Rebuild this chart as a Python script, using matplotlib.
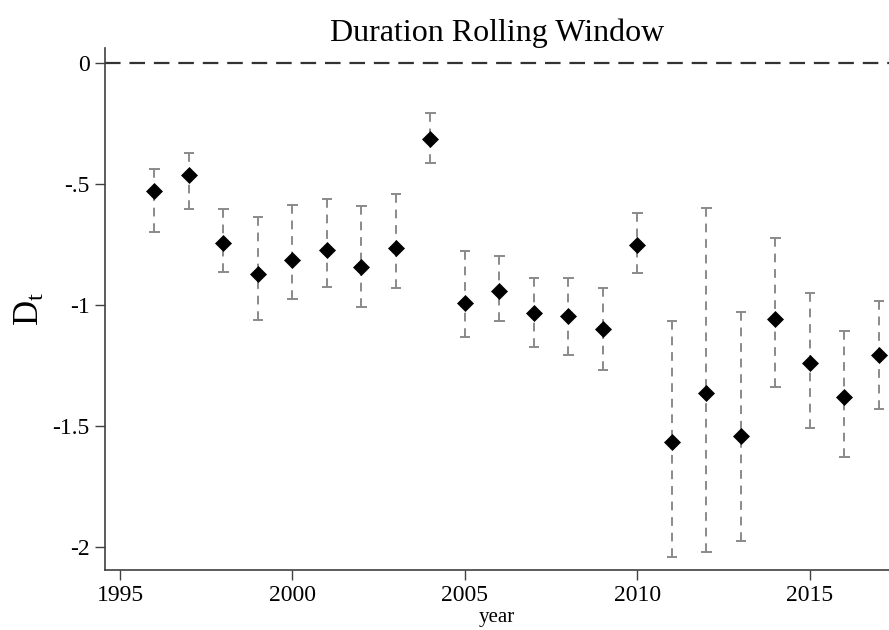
import matplotlib
matplotlib.use("Agg")
import matplotlib.pyplot as plt
import numpy as np

plt.rcParams['font.family'] = ['Liberation Serif', 'DejaVu Serif']
plt.rcParams['mathtext.fontset'] = 'custom'
plt.rcParams['mathtext.rm'] = 'Liberation Serif'
plt.rcParams['mathtext.it'] = 'Liberation Serif:italic'

years = [1996, 1997, 1998, 1999, 2000, 2001, 2002, 2003, 2004, 2005, 2006,
         2007, 2008, 2009, 2010, 2011, 2012, 2013, 2014, 2015, 2016, 2017]
estimate = [-0.529, -0.464, -0.747, -0.873, -0.815, -0.774, -0.843, -0.767, -0.317,
            -0.991, -0.944, -1.035, -1.046, -1.100, -0.753, -1.568, -1.363, -1.540,
            -1.059, -1.239, -1.382, -1.207]
upper = [-0.440, -0.372, -0.603, -0.636, -0.587, -0.563, -0.592, -0.543, -0.210,
         -0.778, -0.799, -0.891, -0.891, -0.932, -0.620, -1.066, -0.599, -1.030,
         -0.723, -0.950, -1.108, -0.985]
lower = [-0.700, -0.603, -0.865, -1.063, -0.975, -0.928, -1.011, -0.931, -0.414,
         -1.132, -1.066, -1.176, -1.206, -1.268, -0.869, -2.040, -2.022, -1.974,
         -1.338, -1.508, -1.627, -1.432]

xticks = [1995, 2000, 2005, 2010, 2015]
yticks = [0, -0.5, -1, -1.5, -2]
ytick_labels = ['0', '-.5', '-1', '-1.5', '-2']

fig = plt.figure(figsize=(8.89, 6.30), dpi=100)
ax = fig.add_axes([0.1181, 0.0952, 0.8819, 0.8286])

gray = '#8a8a8a'
dash = (0, (4.5, 3.5))
# error bars drawn from each cap toward the estimate
ax.vlines(years, upper, estimate, colors=gray, linewidth=1.4, linestyles=[dash])
ax.vlines(years, lower, estimate, colors=gray, linewidth=1.4, linestyles=[dash])
ax.hlines(upper, np.array(years) - 0.15, np.array(years) + 0.15, colors=gray, linewidth=1.4)
ax.hlines(lower, np.array(years) - 0.15, np.array(years) + 0.15, colors=gray, linewidth=1.4)

ax.plot(years, estimate, linestyle='none', marker='D', markersize=8,
        color='black', markeredgewidth=0.5, zorder=5)

ax.axhline(0, color='#333333', linewidth=1.6, linestyle=(0, (7, 4)), zorder=1)

ax.set_xlim(1994.565, 2017.29)
ax.set_ylim(-2.095, 0.06)
ax.set_xticks(xticks)
ax.set_yticks(yticks)
ax.set_yticklabels(ytick_labels)

for s in ['top', 'right']:
    ax.spines[s].set_visible(False)
for s in ['left', 'bottom']:
    ax.spines[s].set_color('#404040')
    ax.spines[s].set_linewidth(1.2)

ax.tick_params(axis='both', direction='out', length=7, width=1.0, color='#404040',
               labelsize=17, pad=4)

ax.set_title('Duration Rolling Window', fontsize=23, pad=4)
ax.set_xlabel('year', fontsize=15, labelpad=1)
ax.set_ylabel(r'D$_{\mathrm{t}}$', fontsize=25, labelpad=4)

fig.savefig('out.png', dpi=100)
